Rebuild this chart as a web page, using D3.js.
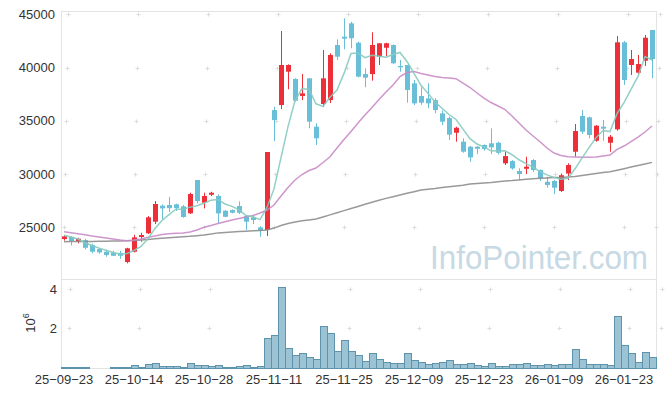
<!DOCTYPE html>
<html>
<head>
<meta charset="utf-8">
<script src="https://cdn.jsdelivr.net/npm/d3@7"></script>
<style>
  body { margin: 0; background: #fff; }
  text { font-family: "Liberation Sans", Arial, sans-serif; }
</style>
</head>
<body>
<div id="chart"></div>
<script>
// trading days, YY-MM-DD
const dates = [
  '25-09-23','25-09-24','25-09-25','25-09-26','25-09-29','25-09-30','25-10-01','25-10-02','25-10-10','25-10-13',
  '25-10-14','25-10-15','25-10-16','25-10-17','25-10-20','25-10-21','25-10-22','25-10-23','25-10-24','25-10-27',
  '25-10-28','25-10-29','25-10-30','25-10-31','25-11-03','25-11-04','25-11-05','25-11-06','25-11-07','25-11-10',
  '25-11-11','25-11-12','25-11-13','25-11-14','25-11-17','25-11-18','25-11-19','25-11-20','25-11-21','25-11-24',
  '25-11-25','25-11-26','25-11-27','25-11-28','25-12-01','25-12-02','25-12-03','25-12-04','25-12-05','25-12-08',
  '25-12-09','25-12-10','25-12-11','25-12-12','25-12-15','25-12-16','25-12-17','25-12-18','25-12-19','25-12-22',
  '25-12-23','25-12-24','25-12-26','25-12-29','25-12-30','26-01-02','26-01-05','26-01-06','26-01-07','26-01-08',
  '26-01-09','26-01-12','26-01-13','26-01-14','26-01-15','26-01-16','26-01-19','26-01-20','26-01-21','26-01-22',
  '26-01-23','26-01-26','26-01-27','26-01-28','26-01-29'
]

const open = [
  23900,24100,23650,23800,23340,22960,22710,22610,22600,21740,
  22710,24090,24440,25530,27030,27100,27160,26970,26320,29440,
  27310,28060,27940,26560,26620,27000,26060,25940,25000,24750,
  36010,36480,39610,38930,37330,38990,34450,36580,36950,42120,
  42900,44150,42330,39390,39390,41020,41860,42120,40150,40240,
  38520,37330,37110,36950,35700,35260,33880,33040,32570,32570,
  32730,32890,32940,31010,31220,30290,30500,31320,30380,29280,
  29350,28410,30050,32100,35450,35330,33130,34450,32940,34200,
  42370,40240,39520,40640,43530
]
const high = [
  24250,24180,24020,23930,23460,23080,22900,22800,22800,23080,
  24300,24490,26060,27470,27160,27870,27220,27090,28250,29440,
  28250,28340,28100,26620,26680,27440,26130,26150,25120,32070,
  36330,43430,40300,39000,39390,38990,34770,41650,41340,42650,
  44620,44300,42430,39930,43310,42280,42330,42180,40710,40240,
  38830,38140,38520,37130,35980,35400,34450,33360,32630,32630,
  32790,34290,33040,32100,31310,30540,31630,31400,30440,29750,
  29440,30050,31010,34700,36010,35390,34600,35080,33670,42960,
  42500,41650,41180,43060,43530
]
const low = [
  23750,23300,23500,22930,22560,22520,22240,22300,22050,21620,
  22650,23650,24370,25310,25750,26440,26530,25900,26250,27250,
  26780,27940,25380,25940,26310,26250,24750,25310,24120,24180,
  33100,36100,37960,36790,36950,34300,32730,36300,36670,40710,
  41710,41810,39080,38150,38770,40240,41080,40350,39610,36700,
  36480,36500,36170,35700,34600,33200,33040,32000,31160,31880,
  32200,31880,31850,30850,30410,29440,30000,30200,29340,28720,
  28130,28320,29440,31630,33760,33360,33040,33130,32100,34070,
  38360,39300,39390,40150,38990
]
const close = [
  24150,23720,23930,23080,22710,22650,22400,22330,22330,23030,
  24060,24280,25940,27190,26780,26800,26800,25970,28130,27470,
  27940,28250,26310,25990,26370,26370,25530,25690,24680,32070,
  35070,40240,40240,36890,37580,34920,33360,38990,41180,41020,
  42710,42750,39140,39050,42120,42280,42280,40400,40020,37890,
  36640,36700,36640,36010,34920,33700,34350,32100,31570,32380,
  32350,32510,32000,31690,30530,30000,30690,30380,29600,28970,
  28720,29890,30850,34040,33980,33670,34540,34260,33510,42370,
  38830,40800,40330,42800,40800
]
const volume = [
  50000,50000,50000,50000,0,0,0,50000,50000,50000,
  150000,50000,200000,250000,100000,100000,100000,50000,250000,150000,
  150000,100000,150000,50000,50000,100000,150000,50000,100000,1520000,
  1670000,4100000,1010000,660000,760000,560000,460000,2110000,1770000,880000,
  1420000,880000,660000,350000,760000,460000,300000,250000,250000,760000,
  420000,300000,200000,250000,300000,400000,200000,200000,250000,150000,
  100000,250000,100000,100000,200000,200000,250000,150000,150000,200000,
  150000,200000,200000,960000,460000,200000,200000,200000,150000,2630000,
  1160000,760000,300000,810000,560000
]

// moving averages as drawn
const ma5 = [
  24250,24100,23900,23550,23300,23050,22850,22630,22500,22548,
  22830,23206,23928,24900,25650,26198,26702,26708,26896,27034,
  27262,27552,27620,27192,26972,26658,26114,25990,25728,26868,
  28608,31550,34460,36902,38004,37974,36598,36348,37206,37894,
  39452,41330,41360,40934,41154,41068,40974,41226,41420,40574,
  39446,38330,37578,36776,36182,35594,35124,34216,33328,32820,
  32550,32182,32162,32186,31816,31346,30982,30658,30240,29928,
  29672,29512,29606,30494,31496,32486,33416,34098,33992,35670,
  36702,37954,39168,41026,40712
]
const ma20 = [
  24586,24494,24400,24296,24183,24089,23995,23901,23807,23742,
  23807,23901,24061,24183,24324,24400,24437,24465,24559,24747,
  25000,25170,25356,25525,25685,25826,25967,26107,26342,26624,
  27094,27939,28737,29441,29958,30333,30568,31084,31629,32445,
  33244,33995,34793,35544,36248,37000,37704,38361,39160,39535,
  39629,39441,39300,39160,39066,39019,38953,38549,38127,37610,
  37141,36718,36389,36061,35450,34793,34136,33573,33037,32445,
  31976,31741,31629,31600,31572,31572,31600,31694,31788,32323,
  32633,33056,33478,33948,34512
]
const ma60 = [
  23650,23660,23670,23670,23680,23690,23700,23710,23720,23740,
  23760,23810,23860,23920,23970,24020,24070,24120,24160,24220,
  24280,24370,24480,24520,24560,24600,24630,24670,24710,24750,
  24930,25170,25360,25500,25610,25700,25780,25970,26170,26370,
  26570,26770,26960,27160,27360,27540,27720,27880,28040,28200,
  28350,28500,28580,28650,28740,28810,28880,28950,29060,29110,
  29170,29220,29290,29350,29390,29450,29510,29550,29600,29630,
  29670,29690,29730,29780,29870,29970,30050,30140,30220,30360,
  30510,30660,30810,30950,31100
]

const priceTicks = [25000, 30000, 35000, 40000, 45000]
const volTicks = [2000000, 4000000]
const tickDates = ['25-09-23','25-10-14','25-10-28','25-11-11','25-11-25','25-12-09','25-12-23','26-01-09','26-01-23']

const width = 665
const height = 397
const plot = { left: 62, right: 656, top: 11, mid: 279, bottom: 368 }

const upColor = '#ec2f38'
const downColor = '#69bfd7'

const svg = d3.select('#chart').append('svg').attr('width', width).attr('height', height)

const x = d3.scaleBand().domain(dates).range([60.5, 655.5]).padding(0)
const cx = d => x(d) + x.bandwidth() / 2
const y = d3.scaleLinear().domain([20150, 45310]).range([plot.mid, plot.top])
const yv = d3.scaleLinear().domain([0, 4500000]).range([plot.bottom, plot.mid])

// frame
let frame = svg.append('g').attr('stroke', '#e3e3e3').attr('fill', 'none')
frame.append('line').attr('x1', plot.left).attr('x2', plot.right).attr('y1', plot.top + 0.5).attr('y2', plot.top + 0.5)
frame.append('line').attr('x1', plot.left).attr('x2', plot.right).attr('y1', plot.mid + 0.5).attr('y2', plot.mid + 0.5)
frame.append('line').attr('x1', plot.right + 0.5).attr('x2', plot.right + 0.5).attr('y1', plot.top).attr('y2', plot.bottom)
frame.append('line').attr('x1', plot.left - 0.5).attr('x2', plot.left - 0.5).attr('y1', plot.top).attr('y2', plot.bottom)
frame.append('line').attr('x1', plot.left).attr('x2', plot.right).attr('y1', plot.bottom + 0.5).attr('y2', plot.bottom + 0.5)

// grid crosses at tick intersections
let crossX = tickDates.map(cx).concat([plot.right])
let crossY = priceTicks.map(y).concat(volTicks.map(yv))
let cross = svg.append('g').attr('stroke', '#dcdcdc').attr('stroke-width', 1)
crossX.forEach(px => {
  crossY.forEach(py => {
    px = Math.round(px) + 0.5
    py = Math.round(py) + 0.5
    cross.append('line').attr('x1', px - 2).attr('x2', px + 2).attr('y1', py).attr('y2', py)
    cross.append('line').attr('x1', px).attr('x2', px).attr('y1', py - 2).attr('y2', py + 2)
  })
})

// watermark
svg.append('text').text('InfoPointer.com')
  .attr('x', 430).attr('y', 269)
  .attr('textLength', 218).attr('lengthAdjust', 'spacingAndGlyphs')
  .attr('font-family', '"DejaVu Sans", sans-serif')
  .attr('font-size', 33)
  .attr('fill', '#c6d9e4')

// candles
let candles = svg.append('g').selectAll('g').data(dates).enter().append('g')
candles.append('line')
  .attr('x1', (d) => Math.round(cx(d)) + 0.5).attr('x2', (d) => Math.round(cx(d)) + 0.5)
  .attr('y1', (d, i) => y(high[i])).attr('y2', (d, i) => y(low[i]))
  .attr('stroke', (d, i) => close[i] >= open[i] ? upColor : downColor)
candles.append('rect')
  .attr('x', (d) => Math.round(cx(d)) - 2)
  .attr('width', 5)
  .attr('y', (d, i) => y(Math.max(open[i], close[i])))
  .attr('height', (d, i) => Math.max(1, y(Math.min(open[i], close[i])) - y(Math.max(open[i], close[i]))))
  .attr('fill', (d, i) => close[i] >= open[i] ? upColor : downColor)

// moving averages
let line = (arr) => d3.line().x((d) => cx(d)).y((d, i) => y(arr[i]))(dates)
svg.append('path').attr('d', line(ma60)).attr('fill', 'none').attr('stroke', '#8e8e8e').attr('stroke-width', 1.5).attr('opacity', 0.9)
svg.append('path').attr('d', line(ma20)).attr('fill', 'none').attr('stroke', '#c98bc6').attr('stroke-width', 1.5).attr('opacity', 0.9)
svg.append('path').attr('d', line(ma5)).attr('fill', 'none').attr('stroke', '#86cabf').attr('stroke-width', 1.5).attr('opacity', 0.9)

// volume
svg.append('g').selectAll('rect').data(dates.filter((d, i) => volume[i] > 0)).enter().append('rect')
  .attr('x', (d) => Math.round(x(d)) + 0.5)
  .attr('width', 7)
  .attr('y', (d) => Math.round(yv(volume[dates.indexOf(d)])) + 0.5)
  .attr('height', (d) => plot.bottom - Math.round(yv(volume[dates.indexOf(d)])))
  .attr('fill', '#9cc3d4')
  .attr('stroke', '#5e93ad')
  .attr('stroke-width', 1)

// axes
let axisText = (g) => {
  g.select('.domain').remove()
  g.selectAll('line').remove()
  g.selectAll('text').attr('fill', '#333').attr('font-size', 13).attr('font-family', '"Liberation Sans", Arial, sans-serif')
}
svg.append('g').attr('transform', `translate(${plot.left},0)`)
  .call(d3.axisLeft(y).tickValues(priceTicks).tickSize(0).tickPadding(7).tickFormat(d3.format('d')))
  .call(axisText)
svg.append('g').attr('transform', `translate(${plot.left},0)`)
  .call(d3.axisLeft(yv).tickValues(volTicks).tickSize(0).tickPadding(5).tickFormat((d) => d / 1000000))
  .call(axisText)
svg.append('g').attr('transform', `translate(0,${plot.bottom})`)
  .call(d3.axisBottom(x).tickValues(tickDates).tickSize(0).tickPadding(7).tickFormat((d) => d.replace(/-/g, '\u2212')))
  .call(axisText)

let unit = svg.append('text').attr('transform', 'translate(35,323) rotate(-90)')
  .attr('text-anchor', 'middle').attr('fill', '#333').attr('font-size', 13)
unit.append('tspan').text('10')
unit.append('tspan').text('6').attr('font-size', 9).attr('dy', -6)
</script>
</body>
</html>
